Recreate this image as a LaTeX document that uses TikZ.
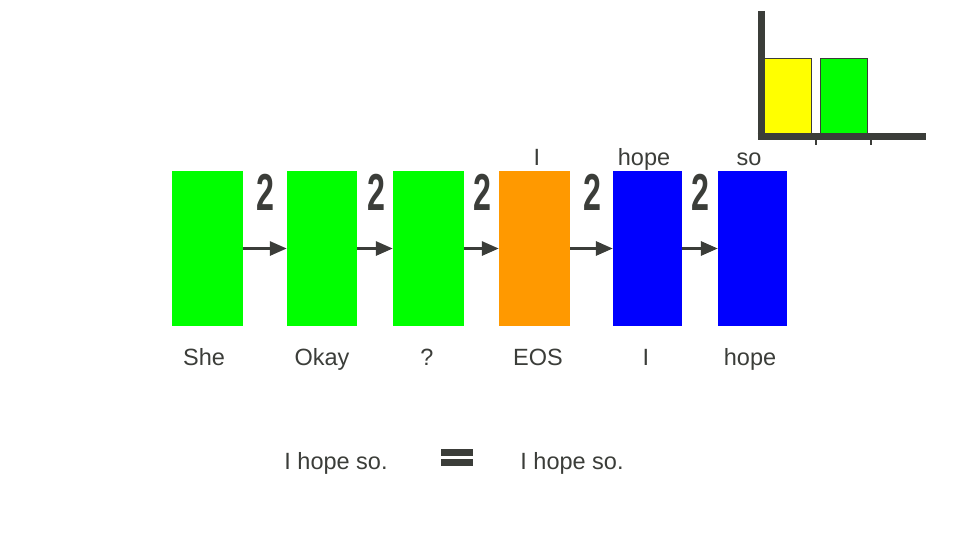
\documentclass[tikz,border=0pt]{standalone}
\usepackage{fontspec}
\setmainfont{Liberation Sans}
\usetikzlibrary{arrows.meta}
\definecolor{ink}{HTML}{3B3D39}
\definecolor{gr}{HTML}{00FF00}
\definecolor{orng}{HTML}{FF9900}
\definecolor{bl}{HTML}{0000FF}
\definecolor{yl}{HTML}{FFFF00}
\begin{document}
\begin{tikzpicture}[x=1pt,y=-1pt,
  cell/.style={draw=none,inner sep=0pt,minimum height=155pt,minimum width=71pt},
  word/.style={text=ink,font=\fontsize{23.5}{28}\selectfont,inner sep=0pt},
  two/.style={text=ink,inner sep=0pt,font=\fontsize{52}{60}\selectfont\bfseries},
  link/.style={draw=ink,line width=3pt,-{Triangle[length=17pt,width=14pt]}},
  axis/.style={draw=ink,line width=7pt}]
\useasboundingbox (0,0) rectangle (960,540);
% cells
\node[cell,fill=gr] (c1) at (207.5,248.5) {};
\node[cell,fill=gr,minimum width=70pt] (c2) at (322,248.5) {};
\node[cell,fill=gr] (c3) at (428.5,248.5) {};
\node[cell,fill=orng] (c4) at (534.5,248.5) {};
\node[cell,fill=bl,minimum width=69pt] (c5) at (647.5,248.5) {};
\node[cell,fill=bl,minimum width=69pt] (c6) at (752.5,248.5) {};
% arrows
\draw[link] (c1.east) -- (c2.west);
\draw[link] (c2.east) -- (c3.west);
\draw[link] (c3.east) -- (c4.west);
\draw[link] (c4.east) -- (c5.west);
\draw[link] (c5.east) -- (c6.west);
% 2 labels
\node[two] (t1) at (265,192) {\scalebox{0.62}[1]{2}};
\node[two] (t2) at (376,192) {\scalebox{0.62}[1]{2}};
\node[two] (t3) at (482,192) {\scalebox{0.62}[1]{2}};
\node[two] (t4) at (592,192) {\scalebox{0.62}[1]{2}};
\node[two] (t5) at (700,192) {\scalebox{0.62}[1]{2}};
% bottom words
\node[word,anchor=base] (w1) at (204,365) {She};
\node[word,anchor=base] (w2) at (322,365) {Okay};
\node[word,anchor=base] (w3) at (427,365) {?};
\node[word,anchor=base] (w4) at (538,365) {EOS};
\node[word,anchor=base] (w5) at (646,365) {I};
\node[word,anchor=base] (w6) at (750,365) {hope};
% top words
\node[word,anchor=base] (o1) at (537,166) {I};
\node[word,anchor=base] (o2) at (644,166) {hope};
\node[word,anchor=base] (o3) at (749,166) {so};
% bottom sentence
\node[word,anchor=base] (s1) at (336,469) {I hope so.};
\node[word,anchor=base] (s2) at (572,469) {I hope so.};
\node[fill=ink,inner sep=0pt,minimum width=32pt,minimum height=7pt] (e1) at (457,452.5) {};
\node[fill=ink,inner sep=0pt,minimum width=32pt,minimum height=7pt] (e2) at (457,462.5) {};
% chart
\node[fill=yl,draw=ink,line width=0.7pt,inner sep=0pt,minimum width=48pt,minimum height=77pt] (b1) at (787.5,96.5) {};
\node[fill=gr,draw=ink,line width=0.7pt,inner sep=0pt,minimum width=47pt,minimum height=77pt] (b2) at (844,96.5) {};
\coordinate (ytop) at (761,11);
\coordinate (org) at (761,137);
\coordinate (xend) at (926,137);
\draw[axis] (ytop) -- (org);
\draw[axis] (757.5,137) -- (xend);
\coordinate (k1) at (816,137);
\coordinate (k2) at (871,137);
\draw[ink,line width=1.5pt] (k1) -- ++(0,8);
\draw[ink,line width=1.5pt] (k2) -- ++(0,8);
\end{tikzpicture}
\end{document}
